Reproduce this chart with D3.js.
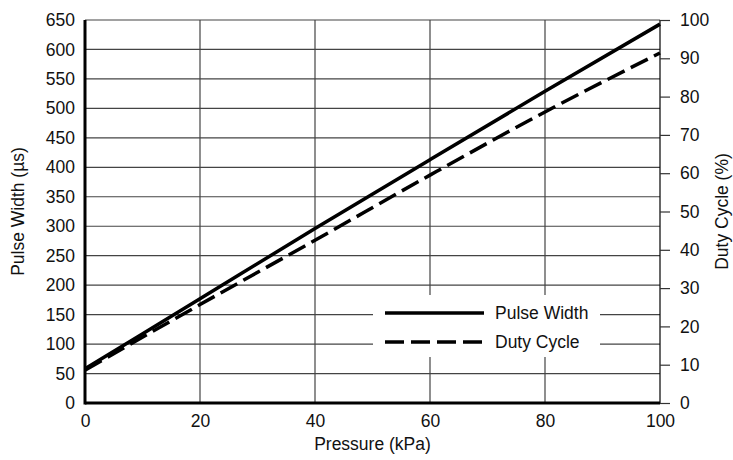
<!DOCTYPE html>
<html><head><meta charset="utf-8">
<script src="https://cdn.jsdelivr.net/npm/d3@7/dist/d3.min.js"></script>
<style>body{margin:0;background:#fff}svg{display:block}text{font-family:"Liberation Sans",Arial,sans-serif;fill:#111}</style>
</head><body>
<svg id="c" width="733" height="460"></svg>
<script>
const pressure = [0, 20, 40, 60, 80, 100];
const pulseWidth = [58, 177, 296, 413, 529, 643];
const dutyCycle = [8.6, 25.7, 42.5, 59.5, 76.0, 91.4];
const xTicks = [0, 20, 40, 60, 80, 100];
const yLeftTicks = d3.range(0, 651, 50);
const yRightTicks = d3.range(0, 101, 10);

const svg = d3.select("#c");
const L = 85, R = 660, T = 20, B = 403;
const x = d3.scaleLinear().domain([0, 100]).range([L, R]);
const yL = d3.scaleLinear().domain([0, 650]).range([B, T]);
const yR = d3.scaleLinear().domain([0, 100]).range([B, T]);
const fs = 17.5;

// grid
const g = svg.append("g");
g.selectAll(".hg").data(yLeftTicks.filter(d => d > 0)).enter().append("line")
  .attr("x1", L).attr("x2", R).attr("y1", d => yL(d)).attr("y2", d => yL(d))
  .attr("stroke", "#444").attr("stroke-width", 1.2);
g.selectAll(".vg").data(xTicks.filter(d => d > 0 && d < 100)).enter().append("line")
  .attr("y1", T).attr("y2", B).attr("x1", d => x(d)).attr("x2", d => x(d))
  .attr("stroke", "#444").attr("stroke-width", 1.2);

// right axis
const ra = svg.append("g").attr("transform", `translate(${R},0)`)
  .call(d3.axisRight(yR).tickValues(yRightTicks).tickSize(10).tickPadding(10).tickFormat(d3.format("d")));
ra.select(".domain").attr("stroke", "#000").attr("stroke-width", 1.2).attr("d", `M0,${T}V${B}`);
ra.selectAll(".tick line").attr("stroke", "#333").attr("stroke-width", 1.2);
ra.selectAll("text").style("font-size", fs + "px").attr("fill", "#111");

// left axis
const la = svg.append("g").attr("transform", `translate(${L},0)`)
  .call(d3.axisLeft(yL).tickValues(yLeftTicks).tickSize(0).tickPadding(10));
la.select(".domain").remove();
la.selectAll("text").style("font-size", fs + "px").attr("fill", "#111");

// bottom axis
const ba = svg.append("g").attr("transform", `translate(0,${B})`)
  .call(d3.axisBottom(x).tickValues(xTicks).tickSize(0).tickPadding(12));
ba.select(".domain").remove();
ba.selectAll("text").style("font-size", fs + "px").attr("fill", "#111");

// axis lines
svg.append("line").attr("x1", L).attr("x2", L).attr("y1", T).attr("y2", B + 1.5).attr("stroke", "#000").attr("stroke-width", 3);
svg.append("line").attr("x1", L).attr("x2", R).attr("y1", B).attr("y2", B).attr("stroke", "#000").attr("stroke-width", 3);

// legend background
svg.append("rect").attr("x", 373).attr("y", 295).attr("width", 227).attr("height", 62).attr("fill", "#fff");

// lines
const lineL = d3.line().curve(d3.curveMonotoneX).x((d, i) => x(pressure[i])).y(d => yL(d));
const lineR = d3.line().curve(d3.curveMonotoneX).x((d, i) => x(pressure[i])).y(d => yR(d));
svg.append("path").datum(pulseWidth).attr("d", lineL).attr("fill", "none").attr("stroke", "#000").attr("stroke-width", 3.5);
svg.append("path").datum(dutyCycle).attr("d", lineR).attr("fill", "none").attr("stroke", "#000").attr("stroke-width", 3.5).attr("stroke-dasharray", "19,7");

// legend
const leg = [{t: "Pulse Width", dash: null, y: 313}, {t: "Duty Cycle", dash: "19,7", y: 342}];
leg.forEach(l => {
  svg.append("line").attr("x1", 385).attr("x2", 484).attr("y1", l.y).attr("y2", l.y)
    .attr("stroke", "#000").attr("stroke-width", 3.5).attr("stroke-dasharray", l.dash);
  svg.append("text").attr("x", 495).attr("y", l.y + 6).style("font-size", fs + "px").text(l.t);
});

// titles
svg.append("text").attr("x", (L + R) / 2).attr("y", 450).attr("text-anchor", "middle").style("font-size", fs + "px").text("Pressure (kPa)");
svg.append("text").attr("transform", `translate(24,${(T + B) / 2}) rotate(-90)`).attr("text-anchor", "middle").style("font-size", fs + "px").text("Pulse Width (\u00b5s)");
svg.append("text").attr("transform", `translate(728,${(T + B) / 2}) rotate(-90)`).attr("text-anchor", "middle").style("font-size", fs + "px").text("Duty Cycle (%)");
</script>
</body></html>
